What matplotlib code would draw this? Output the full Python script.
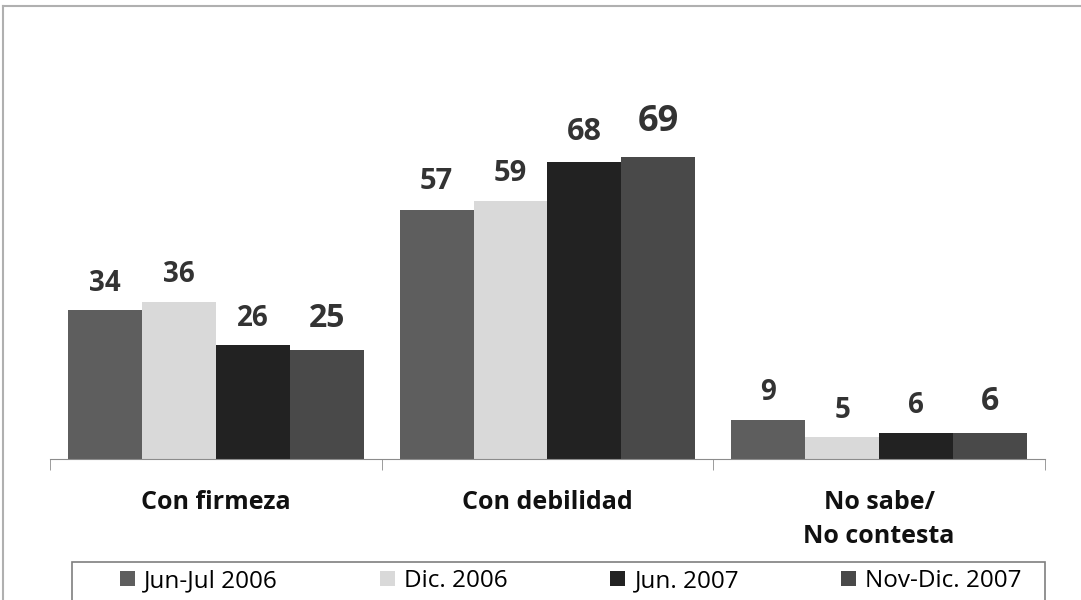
import matplotlib.pyplot as plt
import numpy as np

plt.rcParams['font.family'] = ['Open Sans', 'DejaVu Sans']

# data
categories = ['Con firmeza', 'Con debilidad', 'No sabe/\nNo contesta']
series_names = ['Jun-Jul 2006', 'Dic. 2006', 'Jun. 2007', 'Nov-Dic. 2007']
jun_jul_2006 = [34, 57, 9]
dic_2006 = [36, 59, 5]
jun_2007 = [26, 68, 6]
nov_dic_2007 = [25, 69, 6]

# styles
colors = ['#5e5e5e', '#d9d9d9', '#222222', '#494949']
label_sizes = [[20, 21, 20], [20, 21, 20], [20, 22, 20], [23, 26, 23]]

W, H = 1081, 600
fig = plt.figure(figsize=(W / 100, H / 100), dpi=100)

# outer frame of the slide
fig.add_artist(plt.Line2D([3 / W, 3 / W], [0, 1 - 6 / H], color='#b0b0b0', lw=1.5))
fig.add_artist(plt.Line2D([3 / W, 1], [1 - 6 / H, 1 - 6 / H], color='#b0b0b0', lw=1.5))

ax = fig.add_axes([50 / W, 1 - 459 / H, (1045 - 50) / W, 350 / H])

x = np.arange(len(categories))
w = 0.223
all_series = [jun_jul_2006, dic_2006, jun_2007, nov_dic_2007]
for i, vals in enumerate(all_series):
    pos = x + (i - 1.5) * w
    bars = ax.bar(pos, vals, w, color=colors[i], label=series_names[i], linewidth=0)
    for j, b in enumerate(bars):
        ax.annotate(str(vals[j]), (b.get_x() + b.get_width() / 2, b.get_height()),
                    xytext=(0, 9 + (label_sizes[i][j] - 20) * 0.6), textcoords='offset points',
                    ha='center', va='bottom',
                    fontsize=label_sizes[i][j], fontweight='bold', color='#333333')

ax.set_xlim(-0.5, 2.5)
ax.set_ylim(0, 80)
for s in ['top', 'right', 'left']:
    ax.spines[s].set_visible(False)
ax.spines['bottom'].set_color('#8c8c8c')
ax.set_yticks([])
ax.set_xticks(x)
ax.set_xticklabels(categories, fontsize=18, fontweight='bold', linespacing=1.5, color='#111111')
ax.tick_params(axis='x', which='major', length=0, pad=22)
ax.set_xticks([-0.5, 0.5, 1.5, 2.5], minor=True)
ax.tick_params(axis='x', which='minor', length=8, color='#8c8c8c', direction='out')

# legend box (wider than the legend entries)
fig.add_artist(plt.Rectangle((72 / W, -0.02), (1045 - 72) / W, 0.02 + (600 - 562) / H,
                             fill=False, edgecolor='#7f7f7f', lw=1.2))
fig.legend(loc='upper center', bbox_to_anchor=(571 / W, 1 - 562 / H),
           ncol=4, fontsize=17.5, frameon=False, borderpad=0.3,
           borderaxespad=0, handlelength=0.6, handleheight=0.6, handletextpad=0.4,
           columnspacing=4.2)

fig.savefig('out.png', dpi=100)
